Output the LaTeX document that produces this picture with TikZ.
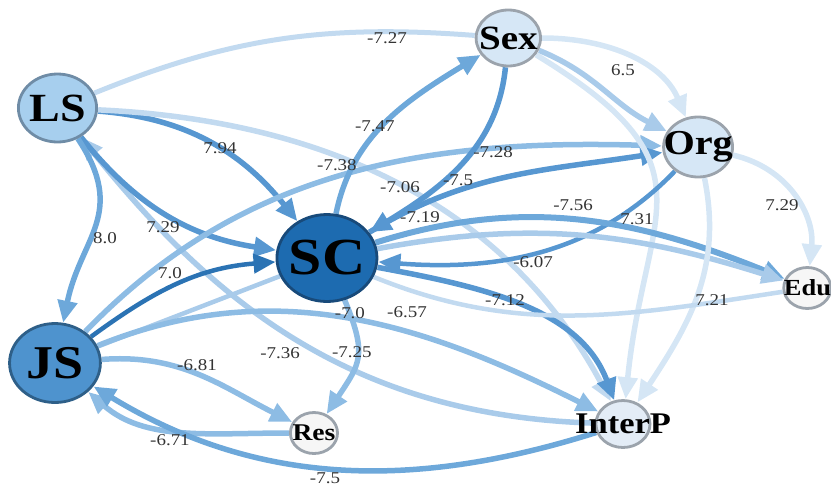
\documentclass[tikz,border=0pt]{standalone}
\usepackage{fontspec}
\setmainfont{Liberation Serif}
\usetikzlibrary{arrows.meta}
\definecolor{wtink}{HTML}{333333}
\definecolor{lsfill}{HTML}{A7CFEE}
\definecolor{lsrim}{HTML}{6F8CA6}
\definecolor{scfill}{HTML}{1D6BB0}
\definecolor{scrim}{HTML}{184A7A}
\definecolor{jsfill}{HTML}{4E93CE}
\definecolor{jsrim}{HTML}{2E5F88}
\definecolor{palefill}{HTML}{D6E7F6}
\definecolor{ipfill}{HTML}{E3ECF6}
\definecolor{greyrim}{HTML}{9BA3AC}
\definecolor{whitefill}{HTML}{F6F6F6}
\definecolor{deep}{HTML}{2B73B4}
\definecolor{strong}{HTML}{5797D1}
\definecolor{mid}{HTML}{6DA8DA}
\definecolor{soft}{HTML}{8DBCE4}
\definecolor{light}{HTML}{A9CBEA}
\definecolor{faint}{HTML}{C2DAF0}
\definecolor{ghost}{HTML}{D5E6F5}

\pgfdeclarelayer{edges}
\pgfsetlayers{edges,main}

\tikzset{
  var/.style={circle, line width=2.8pt, inner sep=0pt},
  wt/.style={font=\fontsize{16.5}{18}\selectfont, text=wtink, inner sep=0.5pt},
  link/.style={line width=#1, -{Triangle[length=22pt,width=19pt]}},
  link/.default=5.5pt,
  tie/.style={line width=#1},
  tie/.default=5pt,
}

\begin{document}
\begin{tikzpicture}[x=1pt,y=1pt,xscale=1.15,transform shape]
  \useasboundingbox (0,0) rectangle (722.6,-487);

  % variables
  \node[var, fill=lsfill, draw=lsrim, minimum size=68pt, label={[font=\fontsize{40}{40}\selectfont\bfseries]center:LS}] (LS) at (50,-108) {};
  \node[var, fill=palefill, draw=greyrim, minimum size=56pt, label={[font=\fontsize{34}{34}\selectfont\bfseries]center:Sex}] (Sex) at (442,-38) {};
  \node[var, fill=palefill, draw=greyrim, minimum size=60pt, label={[font=\fontsize{35}{35}\selectfont\bfseries]center:Org}] (Org) at (607,-147) {};
  \node[var, fill=scfill, draw=scrim, minimum size=87pt, label={[font=\fontsize{52}{52}\selectfont\bfseries]center:SC}] (SC) at (284.3,-258) {};
  \node[var, fill=jsfill, draw=jsrim, minimum size=79pt, label={[font=\fontsize{47}{47}\selectfont\bfseries]center:JS}] (JS) at (47.8,-363) {};
  \node[var, fill=whitefill, draw=greyrim, minimum size=41pt, label={[font=\fontsize{24}{24}\selectfont\bfseries]center:Res}] (Res) at (273,-433) {};
  \node[var, fill=ipfill, draw=greyrim, minimum size=47pt, label={[font=\fontsize{30}{30}\selectfont\bfseries]center:InterP}] (InterP) at (541.7,-424) {};
  \node[var, fill=whitefill, draw=greyrim, minimum size=41pt, label={[font=\fontsize{23}{23}\selectfont\bfseries]center:Edu}] (Edu) at (702,-288) {};

  \begin{pgfonlayer}{edges}
  \draw[tie, faint] (LS) to[out=25,in=175] (Sex);
  \draw[link, strong] (LS) to[out=-5,in=125] (SC);
  \draw[link, faint] (LS) to[out=-3,in=115] (InterP);
  \draw[link, light] (InterP) to[out=178,in=-55] (LS);
  \draw[link, strong] (LS) to[out=-55,in=170] (SC);
  \draw[link, mid] (LS) to[out=-60,in=80,looseness=1.2] (JS);
  \draw[link=4.5pt, deep] (JS) to[out=40,in=185] (SC);
  \draw[tie=4.5pt, light] (JS) -- (SC);
  \draw[link, soft] (JS) to[out=50,in=178] (Org);
  \draw[link, strong] (SC) to[out=35,in=190] (Org);
  \draw[link, mid] (SC) to[out=80,in=-145] (Sex);
  \draw[link, strong] (Sex) to[out=-95,in=35] (SC);
  \draw[link, ghost] (Sex) to[out=0,in=110] (Org);
  \draw[link, light] (Sex) to[out=-25,in=150] (Org);
  \draw[link, ghost] (Sex) to[out=-35,in=85,looseness=1.4] (InterP);
  \draw[link=4.5pt, strong] (Org) to[out=-130,in=-5] (SC);
  \draw[link=6pt, mid] (SC) to[out=20,in=155] (Edu);
  \draw[link, light] (SC) to[out=12,in=160] (Edu);
  \draw[link, ghost] (Org) to[out=-15,in=85] (Edu);
  \draw[link, ghost] (Org) to[out=-80,in=60] (InterP);
  \draw[link, strong] (SC) to[out=-12,in=108] (InterP);
  \draw[link, soft] (JS) to[out=25,in=150] (InterP);
  \draw[tie=4.5pt, faint] (SC) to[out=-25,in=190] (Edu);
  \draw[link, soft] (JS) to[out=5,in=150] (Res);
  \draw[link, soft] (SC) to[out=-70,in=60,looseness=1.3] (Res);
  \draw[link, soft] (Res) to[out=180,in=-45] (JS);
  \draw[link, mid] (InterP) to[out=-160,in=-35] (JS);
  \end{pgfonlayer}

  % weights
  \node[wt] (w727) at (336.5,-38) {-7.27};
  \node[wt] (w65) at (541.7,-70) {6.5};
  \node[wt] (w794) at (191.3,-148) {7.94};
  \node[wt] (w747) at (326,-126) {-7.47};
  \node[wt] (w738) at (293,-165) {-7.38};
  \node[wt] (w728) at (428.7,-152) {-7.28};
  \node[wt] (w706) at (347.8,-187) {-7.06};
  \node[wt] (w75a) at (398.3,-180) {-7.5};
  \node[wt] (w719) at (365.2,-217) {-7.19};
  \node[wt] (w756) at (498.3,-205) {-7.56};
  \node[wt] (w731) at (553.9,-219) {7.31};
  \node[wt] (w729a) at (680,-205) {7.29};
  \node[wt] (w729b) at (141.7,-227) {7.29};
  \node[wt] (w80) at (91.3,-238) {8.0};
  \node[wt] (w70a) at (147.8,-273) {7.0};
  \node[wt] (w607) at (463.5,-262) {-6.07};
  \node[wt] (w712) at (439.1,-300) {-7.12};
  \node[wt] (w721) at (619.1,-300) {7.21};
  \node[wt] (w70b) at (304.3,-313) {-7.0};
  \node[wt] (w657) at (353.9,-312) {-6.57};
  \node[wt] (w736) at (243.5,-353) {-7.36};
  \node[wt] (w725) at (306,-352) {-7.25};
  \node[wt] (w681) at (171.3,-365) {-6.81};
  \node[wt] (w671) at (147.8,-440) {-6.71};
  \node[wt] (w75b) at (282.6,-478) {-7.5};
\end{tikzpicture}
\end{document}
